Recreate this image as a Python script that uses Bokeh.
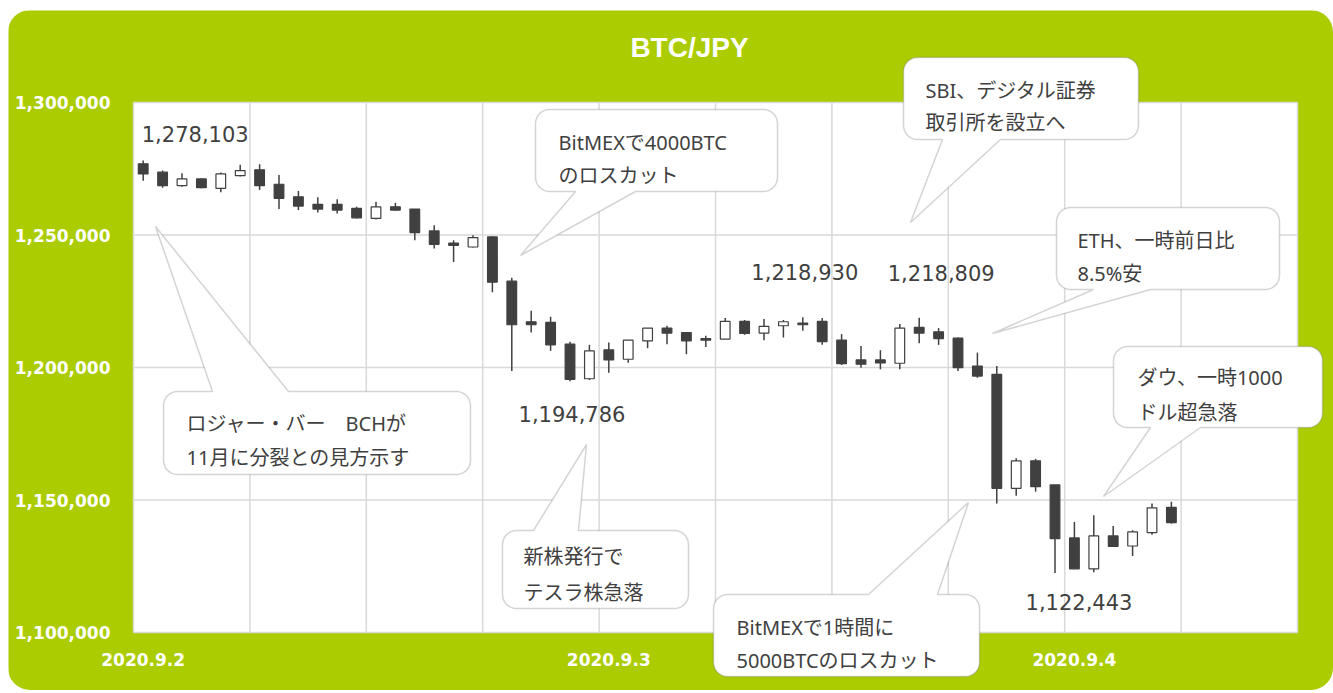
import numpy as np
from bokeh.plotting import figure
from bokeh.models import (FixedTicker, Label, PolyAnnotation, ColumnDataSource,
                          NumeralTickFormatter, LinearAxis)
from bokeh.embed import file_html
from bokeh.resources import INLINE

# ---------------- data ----------------
hours = list(range(54))
opens = [1276850, 1273700, 1268620, 1271160, 1267630, 1272410, 1274580, 1269150, 1264440, 1261560,
         1261560, 1260040, 1256250, 1260650, 1259780, 1251540, 1246990, 1245470, 1249260, 1232570,
         1217270, 1217000, 1208810, 1195750, 1206650, 1203120, 1210060, 1214880, 1213210, 1210930,
         1210710, 1217390, 1212980, 1215750, 1216780, 1217390, 1210330, 1202850, 1202850, 1201600,
         1215110, 1213480, 1211080, 1200570, 1197420, 1154390, 1164780, 1155680, 1135670, 1124020,
         1136430, 1132640, 1137690, 1147180]
highs = [1278103, 1274310, 1273320, 1271420, 1273550, 1276470, 1276740, 1272680, 1266600, 1264210,
         1263450, 1260650, 1262550, 1262170, 1259780, 1253700, 1248010, 1249910, 1249500, 1233860,
         1221450, 1219170, 1209680, 1208540, 1209420, 1210330, 1214880, 1215750, 1213210, 1211960,
         1218680, 1217920, 1218300, 1217920, 1218930, 1218680, 1212600, 1208160, 1206530, 1216400,
         1218809, 1214880, 1211310, 1205620, 1200570, 1165770, 1165540, 1155680, 1141740, 1144280,
         1140230, 1138590, 1148690, 1149340]
lows = [1270510, 1267860, 1268240, 1267630, 1266110, 1272030, 1266990, 1259780, 1259400, 1258520,
        1258140, 1256250, 1255870, 1259130, 1248010, 1244860, 1239780, 1245240, 1228390, 1198680,
        1213210, 1206270, 1194786, 1195260, 1198030, 1201830, 1207290, 1208810, 1205010, 1207780,
        1210710, 1212340, 1210330, 1211310, 1213850, 1208540, 1200950, 1199930, 1199320, 1199320,
        1209190, 1208540, 1198680, 1196130, 1148690, 1151620, 1153140, 1122443, 1124020, 1122770,
        1132530, 1128850, 1136930, 1141100]
closes = [1273050, 1268620, 1271160, 1267860, 1273050, 1274310, 1268620, 1263840, 1260910, 1259780,
          1259400, 1256470, 1260650, 1259400, 1250930, 1246490, 1246110, 1249030, 1232190, 1216130,
          1216130, 1208540, 1195530, 1206270, 1202850, 1210330, 1214880, 1212980, 1210060, 1210330,
          1217390, 1212830, 1215490, 1217270, 1216130, 1209800, 1201450, 1201220, 1201700, 1214880,
          1212980, 1210930, 1199930, 1196780, 1154390, 1164780, 1155030, 1135410, 1124020, 1136430,
          1132530, 1137960, 1147060, 1141480]

y_ticks = [1100000, 1150000, 1200000, 1250000, 1300000]
x_tick_pos = [0, 24, 48]
x_tick_labels = ["2020.9.2", "2020.9.3", "2020.9.4"]
title_text = "BTC/JPY"

# marked extremes: (candle index, value)
mark_idx = [0, 22, 34, 40, 47]
mark_val = [1278103, 1194786, 1218930, 1218809, 1122443]

callout_texts = [
    ["ロジャー・バー　BCHが", "11月に分裂との見方示す"],
    ["BitMEXで4000BTC", "のロスカット"],
    ["新株発行で", "テスラ株急落"],
    ["SBI、デジタル証券", "取引所を設立へ"],
    ["ETH、一時前日比", "8.5%安"],
    ["ダウ、一時1000", "ドル超急落"],
    ["BitMEXで1時間に", "5000BTCのロスカット"],
]

# ---------------- layout / style ----------------
GREEN = "#aacc00"
DARK = "#404040"
GRID = "#d9d9d9"
W, H = 1325, 680
OFF_X, OFF_Y = 8, 10
# plot-area edges in page pixels
FL, FR, FT, FB = 133, 1297, 102, 632
X0, X1 = -0.5, 59.5          # hour slots shown
Y0, Y1 = y_ticks[0], y_ticks[-1]


def px2x(px):
    return X0 + (px - FL) / (FR - FL) * (X1 - X0)


def py2y(py):
    return Y1 - (py - FT) / (FB - FT) * (Y1 - Y0)


p = figure(width=W, height=H, title=None,
           x_range=(px2x(OFF_X), px2x(OFF_X + W)), y_range=(py2y(OFF_Y + H), py2y(OFF_Y)),
           x_axis_location=None, y_axis_location=None,
           output_backend="svg", toolbar_location=None, margin=(OFF_Y, 0, 0, OFF_X),
           min_border=0, min_border_left=0, min_border_right=0, min_border_top=0, min_border_bottom=0,
           border_fill_color=GREEN, background_fill_color=GREEN, outline_line_color=None)
p.styles = {"border-radius": "22px", "overflow": "hidden"}
p.xgrid.visible = False
p.ygrid.visible = False

# white plot area
p.quad(left=[X0], right=[X1], bottom=[Y0], top=[Y1], fill_color="white", line_color=None)

# grid lines
vx = [X0 + 6 * k for k in range(11)]
p.segment(x0=vx, y0=[Y0] * len(vx), x1=vx, y1=[Y1] * len(vx), line_color=GRID, line_width=1.5)
p.segment(x0=[X0] * len(y_ticks), y0=y_ticks, x1=[X1] * len(y_ticks), y1=y_ticks,
          line_color=GRID, line_width=1.5)

# axes (placed at the plot-area edges)
yax = LinearAxis(fixed_location=X0, ticker=FixedTicker(ticks=y_ticks),
                 formatter=NumeralTickFormatter(format="0,0"))
xax = LinearAxis(fixed_location=Y0, ticker=FixedTicker(ticks=x_tick_pos))
xax.major_label_overrides = {k: v for k, v in zip(x_tick_pos, x_tick_labels)}
for ax in (xax, yax):
    ax.axis_line_color = None
    ax.major_tick_line_color = None
    ax.minor_tick_line_color = None
    ax.major_tick_out = 0
    ax.major_tick_in = 0
    ax.major_label_text_color = "white"
    ax.major_label_text_font = "DejaVu Sans"
    ax.major_label_text_font_style = "bold"
    ax.major_label_text_font_size = "17px"
yax.major_label_standoff = 23
xax.major_label_standoff = 20
p.add_layout(yax, "left")
p.add_layout(xax, "below")

# ---------------- candles ----------------
up = [c >= o for o, c in zip(opens, closes)]
src = ColumnDataSource(dict(
    x=hours, o=opens, h=highs, l=lows, c=closes,
    top=[max(o, c) for o, c in zip(opens, closes)],
    bottom=[min(o, c) for o, c in zip(opens, closes)],
    fill=["white" if u else DARK for u in up],
))
p.segment(x0="x", y0="l", x1="x", y1="h", source=src, line_color=DARK, line_width=1.5)
p.vbar(x="x", width=0.5, top="top", bottom="bottom", source=src,
       fill_color="fill", line_color=DARK, line_width=1.2)

# ---------------- extreme value labels ----------------
mark_offsets = [(52, 27), (2, -33), (2, 45), (22, 45), (24, -29)]
for i, v, (dx, dy) in zip(mark_idx, mark_val, mark_offsets):
    p.add_layout(Label(x=i, y=v, x_offset=dx, y_offset=dy, text=f"{v:,}",
                       text_align="center", text_baseline="middle",
                       text_font="DejaVu Sans", text_font_size="21px", text_color=DARK))

# ---------------- title ----------------
p.add_layout(Label(x=px2x(689), y=py2y(47), text=title_text, text_align="center",
                   text_baseline="middle", text_color="white", text_font="Liberation Sans",
                   text_font_style="bold", text_font_size="28px"))

# ---------------- callouts ----------------
callout_geom = [
    dict(box=(163, 391, 470, 474), side="top", base=(212, 288), tip=(155, 226), tx=186, ly=(423, 457)),
    dict(box=(535, 109, 777, 191), side="bottom", base=(575, 635), tip=(520, 255), tx=558, ly=(142, 175)),
    dict(box=(502, 530, 688, 608), side="top", base=(533, 578), tip=(586, 444), tx=523, ly=(556, 592)),
    dict(box=(903, 57, 1138, 139), side="bottom", base=(942, 1000), tip=(910, 222), tx=925, ly=(90, 122)),
    dict(box=(1056, 207, 1279, 289), side="bottom", base=(1093, 1150), tip=(992, 333), tx=1077, ly=(240, 273)),
    dict(box=(1113, 346, 1322, 427), side="bottom", base=(1150, 1200), tip=(1103, 496), tx=1137, ly=(377, 412)),
    dict(box=(713, 594, 979, 676), side="top", base=(868, 937), tip=(968, 502), tx=736, ly=(627, 660)),
]


def bubble(box, side, base, tip, r=14, n=8):
    x0, y0, x1, y1 = box
    b1, b2 = base
    pts = []

    def arc(cx, cy, a0, a1):
        for t in np.linspace(a0, a1, n):
            pts.append((cx + r * np.cos(t), cy + r * np.sin(t)))

    arc(x0 + r, y0 + r, np.pi, 1.5 * np.pi)
    if side == "top":
        pts.extend([(b1, y0), tip, (b2, y0)])
    arc(x1 - r, y0 + r, 1.5 * np.pi, 2 * np.pi)
    arc(x1 - r, y1 - r, 0, 0.5 * np.pi)
    if side == "bottom":
        pts.extend([(b2, y1), tip, (b1, y1)])
    arc(x0 + r, y1 - r, 0.5 * np.pi, np.pi)
    xs = [float(px2x(a)) for a, b in pts]
    ys = [float(py2y(b)) for a, b in pts]
    return xs, ys


for g, lines in zip(callout_geom, callout_texts):
    xs, ys = bubble(g["box"], g["side"], g["base"], g["tip"])
    p.add_layout(PolyAnnotation(xs=xs, ys=ys, fill_color="white", fill_alpha=1.0,
                                line_color="#707070", line_width=1.5))
    for line, ly in zip(lines, g["ly"]):
        p.add_layout(Label(x=px2x(g["tx"]), y=py2y(ly), text=line, text_align="left",
                           text_baseline="middle", text_font="'Noto Sans', 'Noto Sans CJK JP'",
                           text_font_size="20px", text_color=DARK))

open("out.html", "w").write(file_html(p, INLINE))
